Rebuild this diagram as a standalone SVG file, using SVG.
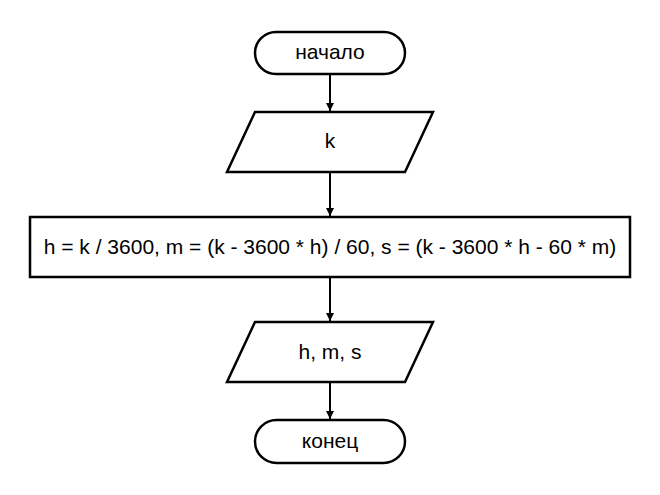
<svg xmlns="http://www.w3.org/2000/svg" width="660" height="495" viewBox="0 0 660 495">
<defs>
<style>
.shape{fill:#fff;stroke:#000;stroke-width:2.5}
.conn{stroke:#000;stroke-width:2;fill:none}
text{font-family:"Liberation Sans",Arial,sans-serif;font-size:21px;fill:#000;text-anchor:middle}
</style>
<marker id="arr" viewBox="0 0 10 10" refX="10" refY="5" markerWidth="4" markerHeight="5" markerUnits="strokeWidth" orient="auto">
<path d="M0,0 L10,5 L0,10 z" fill="#000"/>
</marker>
</defs>
<rect width="660" height="495" fill="#fff"/>
<g id="connectors">
<line class="conn" x1="330" y1="74" x2="330" y2="111" marker-end="url(#arr)"/>
<line class="conn" x1="330" y1="172" x2="330" y2="216" marker-end="url(#arr)"/>
<line class="conn" x1="330" y1="277" x2="330" y2="321" marker-end="url(#arr)"/>
<line class="conn" x1="330" y1="382" x2="330" y2="419" marker-end="url(#arr)"/>
</g>
<g id="start">
<rect class="shape" x="255" y="32" width="150" height="42" rx="21" ry="21"/>
<text x="330" y="59">начало</text>
</g>
<g id="input">
<polygon class="shape" points="255,112 433,112 405,172 227,172"/>
<text x="330" y="148">k</text>
</g>
<g id="process">
<rect class="shape" x="30" y="217" width="600" height="60"/>
<text x="330" y="254">h = k / 3600, m = (k - 3600 * h) / 60, s = (k - 3600 * h - 60 * m)</text>
</g>
<g id="output">
<polygon class="shape" points="255,322 433,322 405,382 227,382"/>
<text x="330" y="359">h, m, s</text>
</g>
<g id="end">
<rect class="shape" x="255" y="420" width="150" height="43" rx="21.5" ry="21.5"/>
<text x="330" y="448">конец</text>
</g>
</svg>
